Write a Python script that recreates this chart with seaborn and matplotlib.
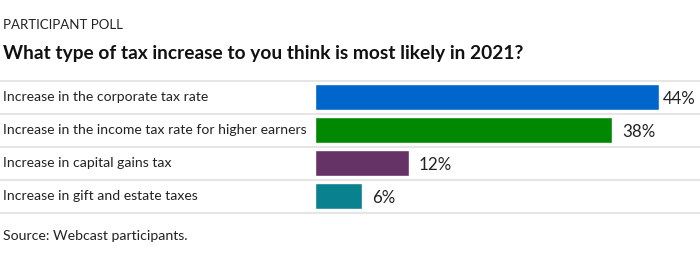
import matplotlib
matplotlib.use("Agg")
import matplotlib.pyplot as plt
import seaborn as sns
import pandas as pd

categories = [
    "Increase in the corporate tax rate",
    "Increase in the income tax rate for higher earners",
    "Increase in capital gains tax",
    "Increase in gift and estate taxes",
]
values = [44, 38, 12, 6]
colors = ["#0066CC", "#008800", "#663366", "#0A818F"]
kicker = "PARTICIPANT POLL"
title = "What type of tax increase to you think is most likely in 2021?"
source = "Source: Webcast participants."

sns.set_theme(style="white")
plt.rcParams["font.family"] = ["Lato", "DejaVu Sans"]

W, H = 700, 259
fig = plt.figure(figsize=(W / 100, H / 100), dpi=100)

top_px, bot_px = 80.7, 212.7
ax = fig.add_axes([0, (H - bot_px) / H, 1, (bot_px - top_px) / H])

px_per_unit = 7.82
bar_left_px = 315
xmin = -bar_left_px / px_per_unit
xmax = (W - bar_left_px) / px_per_unit

df = pd.DataFrame({"category": categories, "value": values})
sns.barplot(data=df, x="value", y="category", hue="category",
            palette=colors, orient="h", width=26 / 33, ax=ax,
            legend=False, saturation=1)

ax.set_xlim(xmin, xmax)
ax.set_ylim(len(categories) - 0.5, -0.5)
ax.set_axis_off()

label_max_x = xmax - 37 / px_per_unit
for i, (c, v) in enumerate(zip(categories, values)):
    ax.text(xmin + 3 / px_per_unit, i, c, va="center", ha="left",
            fontsize=10.05, color="#222222")
    lx = min(v + 10 / px_per_unit, label_max_x)
    ax.text(lx, i + 0.05, f"{v}%", va="center", ha="left",
            fontsize=12.2, color="#222222")

for k in range(len(categories) + 1):
    ax.axhline(k - 0.5, color="#E0E0E0", lw=1.2, clip_on=False, zorder=0)

fig.text(3 / W, 1 - 25 / H, kicker, ha="left", va="center",
         fontsize=9.5, color="#222222")
fig.text(3 / W, 1 - 53 / H, title, ha="left", va="center",
         fontsize=13.75, fontweight="bold", color="#111111")
fig.text(3 / W, 1 - 236 / H, source, ha="left", va="center",
         fontsize=10.2, color="#222222")

fig.savefig("out.png", dpi=100)
